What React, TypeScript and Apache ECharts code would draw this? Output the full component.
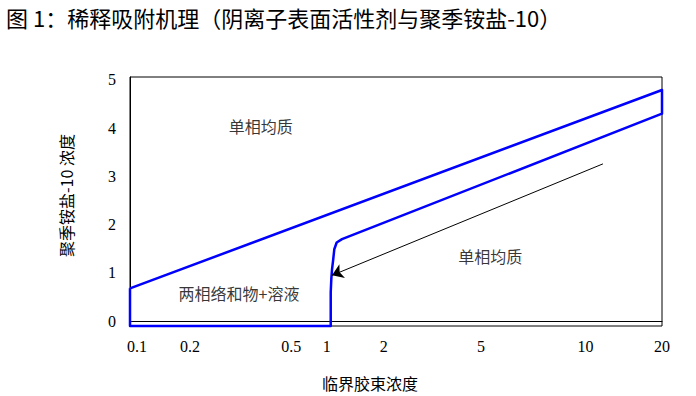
import React, { useEffect, useRef } from "react";
import * as echarts from "echarts";

// x is a position along the drawn axis (0 = left edge, 100 = right edge)
const xTickPos = [1.3, 11.3, 30.3, 37.0, 47.7, 66.0, 85.6, 100];
const xTickLabels = ["0.1", "0.2", "0.5", "1", "2", "5", "10", "20"];
const yTickValues = [0, 1, 2, 3, 4, 5];

// outline of the two-phase region (x position, polyquaternium-10 concentration)
const boundaryX = [0, 100, 100, 39.85, 38.85, 38.4, 38.2, 37.97, 37.84, 37.73, 37.73, 0, 0];
const boundaryY = [0.68, 4.79, 4.3, 1.7, 1.63, 1.49, 1.28, 1.07, 0.87, 0.6, -0.1, -0.1, 0.68];

const arrowFrom = [88.9, 3.26];
const arrowTo = [37.97, 0.95];

const noteTexts = ["单相均质", "两相络和物+溶液", "单相均质"];
const noteX = [24.6, 20.5, 67.7];
const noteY = [4.05, 0.58, 1.36];

const CJK = '"Noto Sans CJK SC", "Noto Sans", sans-serif';
const SERIF = '"Liberation Serif", "DejaVu Serif", serif';

export default function App() {
  const ref = useRef<HTMLDivElement>(null);
  useEffect(() => {
    if (!ref.current) return;
    const chart = echarts.init(ref.current, null, { renderer: "svg" });
    chart.setOption({
      animation: false,
      backgroundColor: "#ffffff",
      title: {
        text: "图 1：稀释吸附机理（阴离子表面活性剂与聚季铵盐-10）",
        left: 1,
        top: 1,
        textStyle: { fontFamily: CJK, fontSize: 22, fontWeight: "normal", color: "#000" },
      },
      grid: {
        left: 130,
        right: 34,
        top: 77,
        bottom: 69,
        show: true,
        borderColor: "#000",
        borderWidth: 1,
      },
      xAxis: {
        type: "value",
        min: 0,
        max: 100,
        name: "临界胶束浓度",
        nameLocation: "middle",
        nameGap: 49,
        nameTextStyle: { fontFamily: CJK, fontSize: 16, color: "#000", padding: [0, 52, 0, 0] },
        axisLine: { show: true, lineStyle: { color: "#000", width: 1 } },
        axisTick: { show: false },
        splitLine: { show: false },
        axisLabel: {
          customValues: xTickPos,
          formatter: (v: number) => {
            const i = xTickPos.findIndex((p) => Math.abs(p - v) < 1e-6);
            return i >= 0 ? xTickLabels[i] : "";
          },
          fontFamily: SERIF,
          fontSize: 16,
          color: "#000",
          margin: 12,
        },
      },
      yAxis: {
        type: "value",
        min: -0.1,
        max: 5.06,
        name: "聚季铵盐-10 浓度",
        nameLocation: "middle",
        nameGap: 56,
        nameRotate: 90,
        nameTextStyle: { fontFamily: CJK, fontSize: 16, color: "#000", padding: [0, 0, 0, 12] },
        axisLine: { show: true, lineStyle: { color: "#000", width: 1 } },
        axisTick: { show: false },
        splitLine: { show: false },
        axisLabel: {
          customValues: yTickValues,
          fontFamily: SERIF,
          fontSize: 16,
          color: "#000",
          margin: 14,
        },
      },
      series: [
        {
          type: "line",
          data: boundaryX.map((x, i) => [x, boundaryY[i]]),
          showSymbol: false,
          symbol: "none",
          clip: false,
          lineStyle: { color: "#0000ff", width: 2.5, join: "round" },
          markLine: {
            silent: true,
            symbol: ["none", "arrow"],
            symbolSize: 11,
            label: { show: false },
            lineStyle: { color: "#000", width: 1, type: "solid" },
            data: [[{ coord: arrowFrom }, { coord: arrowTo }]],
          },
        },
        {
          type: "scatter",
          symbolSize: 0,
          data: noteX.map((x, i) => ({ value: [x, noteY[i]], name: noteTexts[i] })),
          label: {
            show: true,
            position: "inside",
            formatter: (p: any) => p.name,
            fontFamily: CJK,
            fontSize: 16,
            color: "#000",
          },
        },
      ],
    });
    return () => chart.dispose();
  }, []);
  return (
    <div
      ref={ref}
      style={{ position: "fixed", left: 0, top: 0, width: 696, height: 396 }}
    />
  );
}
